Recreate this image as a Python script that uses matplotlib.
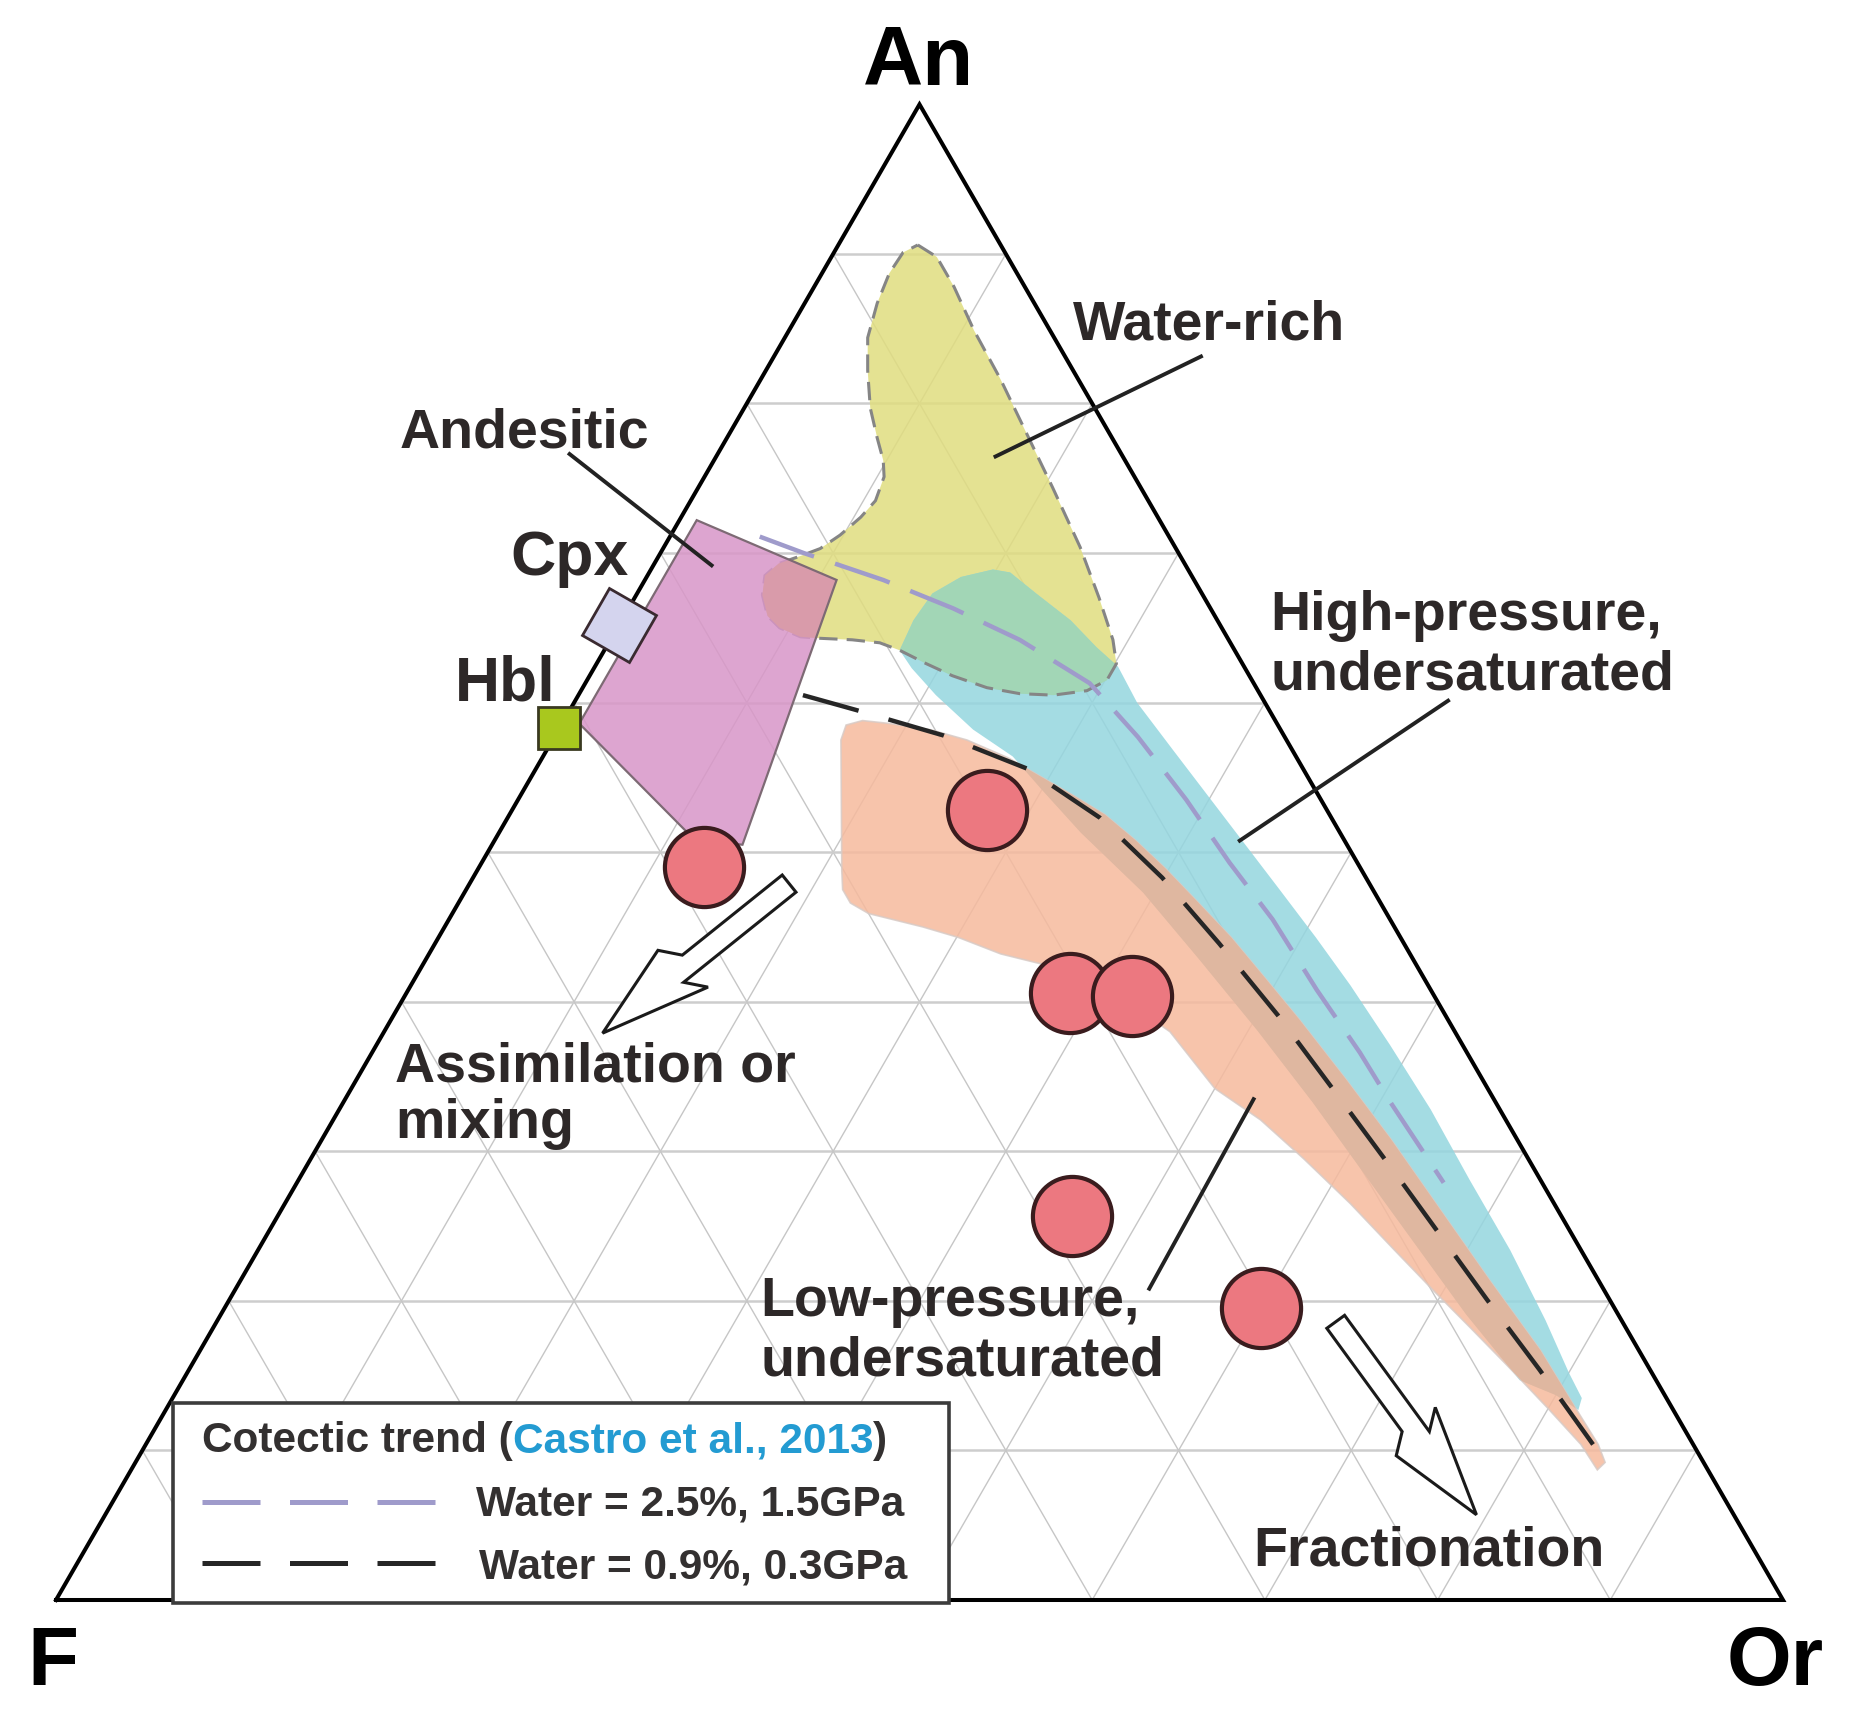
import numpy as np
import matplotlib.pyplot as plt
from matplotlib.patches import Polygon, Rectangle
from matplotlib.lines import Line2D
from matplotlib.markers import MarkerStyle
from matplotlib.transforms import Affine2D

# ---- data (An %, Or %; F = 100 - An - Or) ----
sample_an = [49.0, 52.8, 40.6, 40.4, 25.7, 19.5]
sample_or = [13.0, 27.5, 38.4, 42.1, 46.0, 60.0]

cpx_an, cpx_or = 65.2, 0.0
hbl_an, hbl_or = 58.3, 0.0

# Water-rich field
water_an = [90.6, 89.8, 87.8, 84.9, 81.6, 78.0, 74.4, 70.4, 67.0, 64.2, 62.6,
            61.5, 60.8, 60.5, 60.6, 61.0, 61.8, 62.6, 63.5, 64.0, 64.2, 64.3,
            64.4, 65.0, 65.8, 67.2, 68.5, 69.3, 69.8,
            70.3, 71.2, 72.4, 73.5, 75.1, 76.2, 77.7, 79.7, 82.2, 84.4, 86.7, 88.7, 90.1]
water_or = [4.6, 6.1, 8.1, 10.7, 13.9, 17.2, 20.5, 24.1, 26.9, 29.1, 30.1,
            30.1, 29.3, 27.5, 25.5, 23.4, 21.0, 19.1, 17.1, 15.7, 14.0, 12.1,
            10.9, 9.4, 8.3, 7.3, 6.8, 7.2, 8.2,
            9.1, 9.8, 10.4, 10.7, 10.4, 9.8, 8.7, 7.3, 5.9, 4.8, 4.2, 3.9, 4.0]

# Andesitic field
andes_an = [72.2, 68.2, 50.5, 50.8, 58.6]
andes_or = [1.0, 11.1, 14.5, 11.6, 1.0]

# High-pressure, undersaturated field
highp_an = [63.5, 65.5, 67.3, 68.4, 68.9, 68.7, 67.3, 65.5, 63.7, 62.4, 60.0, 56.8,
            53.7, 50.6, 47.5, 44.3, 41.1, 37.1, 32.8, 28.1, 23.4, 18.7, 15.2, 13.5,
            12.7, 13.7, 14.7, 19.1, 26.9, 33.3, 38.1, 42.9, 47.3, 51.3, 54.1, 56.4,
            58.2, 60.5, 62.3]
highp_or = [17.1, 16.9, 17.1, 18.2, 19.8, 20.9, 23.1, 26.0, 28.4, 30.3, 32.6, 36.3,
            39.9, 43.5, 47.1, 50.8, 54.4, 58.7, 63.2, 67.8, 72.5, 76.9, 80.0, 81.6,
            81.8, 80.0, 77.4, 72.1, 63.3, 56.1, 50.5, 44.7, 39.3, 33.7, 30.1, 27.2,
            24.0, 20.7, 18.4]

# Low-pressure, undersaturated field
lowp_an = [57.5, 58.5, 58.8, 58.6, 58.2, 57.5, 56.3, 55.1, 53.8, 52.5, 50.8, 48.9,
           46.8, 44.3, 41.6, 38.8, 34.8, 30.8, 26.1, 21.4, 16.7, 13.0, 10.4, 9.2,
           8.7, 10.4, 12.8, 15.6, 18.2, 20.7, 23.4, 26.5, 29.5, 32.1, 34.2, 38.0,
           40.8, 42.4, 43.2, 44.3, 45.0, 45.9, 46.6, 47.5, 48.8]
lowp_or = [16.7, 16.5, 17.3, 19.0, 21.5, 24.0, 27.0, 29.4, 32.0, 34.5, 37.1, 39.8,
           42.6, 45.9, 49.2, 52.6, 57.3, 61.9, 67.1, 72.3, 77.6, 81.4, 84.1, 85.1,
           84.9, 83.1, 80.0, 76.3, 72.8, 69.4, 65.8, 61.7, 57.5, 53.7, 50.0, 45.5,
           40.6, 36.3, 33.1, 30.1, 27.7, 24.1, 22.7, 21.8, 21.1]

# Cotectic trends (Castro et al., 2013)
trend_hp_an = [71.1, 70.0, 68.2, 66.3, 64.2, 61.3, 57.7, 53.5, 49.3, 45.5, 40.8, 36.6, 33.4, 27.9]
trend_hp_or = [5.2, 8.3, 13.8, 18.8, 23.7, 29.2, 33.8, 38.7, 43.3, 47.7, 52.6, 57.2, 60.5, 66.4]
trend_lp_an = [60.5, 59.5, 57.8, 55.6, 52.3, 48.3, 43.9, 39.1, 34.3, 27.9, 20.1, 15.4, 10.4]
trend_lp_or = [13.0, 16.6, 22.5, 28.4, 34.3, 39.9, 45.4, 51.2, 56.7, 64.0, 72.8, 78.2, 83.8]

# leader lines and process arrows (start, end)
leaders = {
    'water': ([76.4, 83.2], [16.1, 24.8]),
    'andes': ([69.1, 76.7], [3.5, -8.7]),
    'highp': ([50.7, 60.2], [43.1, 50.6]),
    'lowp': ([20.7, 33.6], [52.9, 52.6]),
}
assim_an, assim_or = [47.9, 37.9], [18.5, 12.7]
fract_an, fract_or = [18.6, 5.7], [64.8, 79.4]

# ---- layout ----
W, H = 1861, 1719
SCALE = 1727.0          # pixels per unit side
X0, Y0 = 56, 1600       # pixel position of the F corner
S3 = np.sqrt(3) / 2


def tern(an, orr):
    an = np.asarray(an, dtype=float) / 100.0
    orr = np.asarray(orr, dtype=float) / 100.0
    return orr + an / 2, an * S3


def xy(an, orr):
    x, y = tern(an, orr)
    return np.column_stack([x, y])


def fx(px):
    return px / W


def fy(py):
    return 1 - py / H


fig = plt.figure(figsize=(W / 100, H / 100), dpi=100)
ax = fig.add_axes([0, 0, 1, 1])
ax.set_xlim(-X0 / SCALE, (W - X0) / SCALE)
ax.set_ylim(-(H - Y0) / SCALE, Y0 / SCALE)
ax.axis('off')

# grid
for k in range(1, 10):
    f = k / 10
    x, y = tern([f * 100, f * 100], [0, (1 - f) * 100])
    ax.plot(x, y, color='#cdcdcd', lw=1.8, zorder=1, solid_capstyle='butt')
    x, y = tern([0, (1 - f) * 100], [f * 100, f * 100])
    ax.plot(x, y, color='#c6c6c6', lw=1.0, zorder=1)
    x, y = tern([0, (1 - f) * 100], [(1 - f) * 100, 0])
    ax.plot(x, y, color='#c6c6c6', lw=1.0, zorder=1)

A = 0.85
yellow = Polygon(xy(water_an, water_or), closed=True, facecolor='#e0dd7f', edgecolor='none', alpha=A, zorder=2)
ax.add_patch(yellow)
blue = Polygon(xy(highp_an, highp_or), closed=True, facecolor='#94d6df', edgecolor='none', alpha=A, zorder=2.2)
ax.add_patch(blue)
green = Polygon(xy(highp_an, highp_or), closed=True, facecolor='#a2d6b6', edgecolor='none', zorder=2.4)
ax.add_patch(green)
green.set_clip_path(yellow)
ax.add_patch(Polygon(xy(water_an, water_or), closed=True, fill=False, edgecolor='#858585',
                     lw=2.2, linestyle=(0, (6, 3)), zorder=2.6))

orange = Polygon(xy(lowp_an, lowp_or), closed=True, facecolor='#f6ba9d', edgecolor='#d8cbc6',
                 lw=1.2, alpha=A, zorder=3)
ax.add_patch(orange)
tan = Polygon(xy(lowp_an, lowp_or), closed=True, facecolor='#dfb7a0', edgecolor='none', zorder=3.2)
ax.add_patch(tan)
tan.set_clip_path(blue)

pink = Polygon(xy(andes_an, andes_or), closed=True, facecolor='#d896c8', edgecolor='none', alpha=A, zorder=4)
ax.add_patch(pink)
lobe = Polygon(xy(water_an, water_or), closed=True, facecolor='#d99baa', edgecolor='none', zorder=4.2)
ax.add_patch(lobe)
lobe.set_clip_path(pink)
ax.add_patch(Polygon(xy(andes_an, andes_or), closed=True, fill=False, edgecolor='#7d6a74',
                     lw=1.6, zorder=4.4))

# triangle
tx, ty = tern([0, 0, 100, 0], [0, 100, 0, 0])
ax.plot(tx, ty, color='black', lw=2.9, zorder=5, solid_joinstyle='miter')

# cotectic trends
x, y = tern(trend_hp_an, trend_hp_or)
ax.plot(x, y, color='#9f9bcb', lw=3.2, dashes=(13, 5), zorder=6)
x, y = tern(trend_lp_an, trend_lp_or)
ax.plot(x, y, color='#262626', lw=3.2, dashes=(13, 7), zorder=6)

# leader lines
for an, orr in leaders.values():
    x, y = tern(an, orr)
    ax.plot(x, y, color='#222222', lw=2.8, zorder=6, solid_capstyle='butt')


def lightning_arrow(an, orr, shaft=11, head=30, head_len=103, skew=8):
    x, y = tern(an, orr)
    p0 = np.array([x[0], y[0]])
    p1 = np.array([x[1], y[1]])
    d = p1 - p0
    L = np.hypot(*d)
    d = d / L
    n = np.array([-d[1], d[0]])
    k = 1 / SCALE
    w, hw, hl, s = shaft * k, head * k, head_len * k, skew * k
    uh = L - hl
    local = [(0, w), (uh + s, w), (uh - s, hw), (L, 0), (uh + s, -hw), (uh - s, -w), (0, -w)]
    pts = [p0 + u * d + v * n for u, v in local]
    ax.add_patch(Polygon(pts, closed=True, facecolor='white', edgecolor='#1a1a1a',
                         lw=2.2, joinstyle='miter', zorder=6))


lightning_arrow(assim_an, assim_or)
lightning_arrow(fract_an, fract_or)

# samples and minerals
x, y = tern(sample_an, sample_or)
ax.plot(x, y, 'o', ms=57, mfc='#ec7880', mec='#3a1c1e', mew=3, zorder=7, linestyle='none')
x, y = tern([cpx_an], [cpx_or])
ax.plot(x, y, marker=MarkerStyle('s', transform=Affine2D().rotate_deg(60)), ms=39,
        mfc='#d4d4ee', mec='#3a2a30', mew=2, zorder=7, linestyle='none')
x, y = tern([hbl_an], [hbl_or])
ax.plot(x, y, marker='s', ms=30, mfc='#a9c81e', mec='#3a3a20', mew=2, zorder=7, linestyle='none')

# labels
FONT = 'Liberation Sans'
TXT = '#2d2828'
lab = dict(fontsize=40, fontweight='bold', color=TXT, family=FONT, va='baseline', ha='left', zorder=8)
big = dict(fontsize=60, fontweight='bold', color='black', family=FONT, va='baseline', ha='center')

fig.text(fx(918), fy(85), 'An', **big)
fig.text(fx(53), fy(1685), 'F', **big)
fig.text(fx(1775), fy(1685), 'Or', **big)

fig.text(fx(1073), fy(340), 'Water-rich', **lab)
fig.text(fx(400), fy(447), 'Andesitic', **lab)
fig.text(fx(510), fy(575), 'Cpx', **{**lab, 'fontsize': 45})
fig.text(fx(455), fy(700), 'Hbl', **{**lab, 'fontsize': 45})
fig.text(fx(1270), fy(630), 'High-pressure,', **lab)
fig.text(fx(1270), fy(689), 'undersaturated', **lab)
fig.text(fx(760), fy(1316), 'Low-pressure,', **lab)
fig.text(fx(760), fy(1375), 'undersaturated', **lab)
fig.text(fx(395), fy(1082), 'Assimilation or', **lab)
fig.text(fx(395), fy(1138), 'mixing', **lab)
fig.text(fx(1253), fy(1565), 'Fractionation', **lab)

# legend
fig.add_artist(Rectangle((fx(173), fy(1603)), fx(949) - fx(173), fy(1403) - fy(1603),
                         transform=fig.transFigure, facecolor='white', edgecolor='#3c3c3c',
                         lw=2.6, zorder=9))
leg = dict(fontsize=30.5, fontweight='bold', color='#333030', family=FONT,
           va='baseline', ha='left', zorder=10)
renderer = fig.canvas.get_renderer()
xpos = fx(202)
for piece, col in [('Cotectic trend (', '#333030'), ('Castro et al., 2013', '#239bd2'), (')', '#333030')]:
    t = fig.text(xpos, fy(1452), piece, **{**leg, 'color': col})
    bb = t.get_window_extent(renderer)
    xpos = bb.x1 / W
fig.add_artist(Line2D([fx(202), fx(440)], [fy(1502), fy(1502)], transform=fig.transFigure,
                      color='#9f9bcb', lw=3.6, dashes=(11.6, 5.9), zorder=10))
fig.add_artist(Line2D([fx(202), fx(440)], [fy(1563), fy(1563)], transform=fig.transFigure,
                      color='#262626', lw=3.6, dashes=(11.6, 5.9), zorder=10))
fig.text(fx(476), fy(1515), 'Water = 2.5%, 1.5GPa', **leg)
fig.text(fx(479), fy(1578), 'Water = 0.9%, 0.3GPa', **leg)

fig.savefig('out.png', dpi=100, facecolor='white')
plt.close(fig)
